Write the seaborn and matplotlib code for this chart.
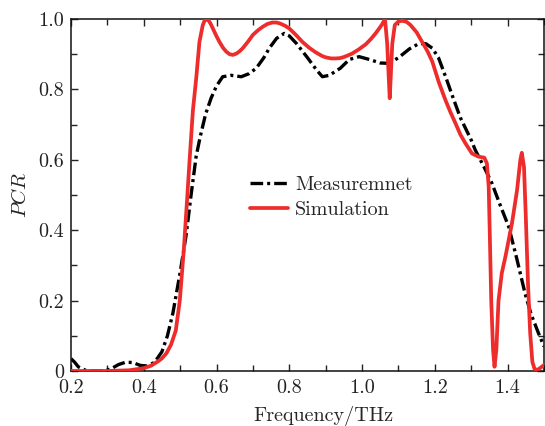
import numpy as np
import pandas as pd
import matplotlib
matplotlib.use("Agg")
import matplotlib.pyplot as plt
from matplotlib.ticker import MultipleLocator
import seaborn as sns

# ---- data ----
meas_x = [0.20, 0.21, 0.22, 0.24, 0.26, 0.29, 0.31, 0.33, 0.35, 0.37, 0.39, 0.41, 0.43,
          0.45, 0.465, 0.48, 0.50, 0.517, 0.53, 0.544, 0.555, 0.57, 0.585, 0.60, 0.617,
          0.64, 0.668, 0.69, 0.709, 0.73, 0.745, 0.765, 0.786, 0.80, 0.82, 0.85, 0.875,
          0.891, 0.91, 0.94, 0.965, 0.992, 1.02, 1.05, 1.074, 1.10, 1.13, 1.156, 1.175,
          1.193, 1.21, 1.23, 1.247, 1.27, 1.30, 1.311, 1.335, 1.357, 1.38, 1.403, 1.425,
          1.448, 1.465, 1.485, 1.50]
meas_y = [0.035, 0.025, 0.012, 0.002, 0.0, 0.0, 0.006, 0.018, 0.025, 0.024, 0.016, 0.014, 0.025,
          0.055, 0.10, 0.164, 0.28, 0.39, 0.50, 0.61, 0.665, 0.73, 0.775, 0.81, 0.836,
          0.84, 0.836, 0.845, 0.86, 0.89, 0.917, 0.945, 0.959, 0.952, 0.93, 0.89, 0.855,
          0.836, 0.84, 0.86, 0.885, 0.893, 0.885, 0.875, 0.874, 0.89, 0.915, 0.93, 0.93,
          0.917, 0.89, 0.835, 0.785, 0.72, 0.656, 0.628, 0.58, 0.533, 0.47, 0.41, 0.32,
          0.22, 0.16, 0.107, 0.07]

sim_x = [0.20, 0.30, 0.36, 0.40, 0.42, 0.44, 0.45, 0.462, 0.475, 0.488, 0.499, 0.510,
         0.519, 0.526, 0.535, 0.544, 0.553, 0.562, 0.567, 0.572, 0.577, 0.583, 0.59, 0.599,
         0.608, 0.618, 0.627, 0.636, 0.645, 0.655, 0.663, 0.672, 0.686, 0.70, 0.714, 0.727,
         0.74, 0.753, 0.765, 0.775, 0.788, 0.80, 0.818, 0.836, 0.855, 0.873, 0.89, 0.90,
         0.915, 0.928, 0.94, 0.95, 0.962, 0.973, 0.99, 1.01, 1.025, 1.037, 1.047, 1.055,
         1.063, 1.069, 1.073, 1.076, 1.079, 1.083, 1.09, 1.10, 1.11, 1.122, 1.133, 1.15,
         1.165, 1.18, 1.193, 1.211, 1.229, 1.243, 1.257, 1.27, 1.284, 1.302, 1.32, 1.336,
         1.343, 1.348, 1.351, 1.355, 1.36, 1.364, 1.369, 1.375, 1.384, 1.394, 1.412, 1.426,
         1.435, 1.439, 1.445, 1.45, 1.456, 1.462, 1.468, 1.474, 1.482, 1.494, 1.50]
sim_y = [0.000, 0.000, 0.002, 0.008, 0.015, 0.028, 0.036, 0.05, 0.075, 0.115, 0.20, 0.344,
         0.486, 0.60, 0.74, 0.83, 0.935, 0.982, 0.995, 1.0, 0.997, 0.988, 0.973, 0.953,
         0.935, 0.918, 0.907, 0.9, 0.898, 0.902, 0.908, 0.917, 0.935, 0.955, 0.968, 0.978,
         0.986, 0.99, 0.99, 0.987, 0.981, 0.973, 0.955, 0.935, 0.918, 0.905, 0.895, 0.891,
         0.888, 0.888, 0.889, 0.892, 0.897, 0.902, 0.913, 0.928, 0.944, 0.959, 0.973, 0.985,
         1.0, 0.93, 0.84, 0.775, 0.84, 0.93, 0.983, 0.993, 0.995, 0.992, 0.983, 0.962,
         0.935, 0.908, 0.879, 0.82, 0.77, 0.735, 0.703, 0.672, 0.647, 0.618, 0.609, 0.606,
         0.59, 0.524, 0.39, 0.2, 0.06, 0.012, 0.06, 0.2, 0.278, 0.325, 0.42, 0.514,
         0.60, 0.62, 0.58, 0.438, 0.249, 0.108, 0.026, 0.006, 0.003, 0.012, 0.017]

xticks = [0.2, 0.4, 0.6, 0.8, 1.0, 1.2, 1.4]
xtick_labels = ["0.2", "0.4", "0.6", "0.8", "1.0", "1.2", "1.4"]
yticks = [0, 0.2, 0.4, 0.6, 0.8, 1.0]
ytick_labels = ["0", "0.2", "0.4", "0.6", "0.8", "1.0"]

# ---- style ----
sns.set_style("ticks")
plt.rcParams["font.family"] = ["serif"]
plt.rcParams["font.serif"] = ["cmr10", "DejaVu Serif"]
plt.rcParams["mathtext.fontset"] = "cm"
plt.rcParams["axes.formatter.use_mathtext"] = True
plt.rcParams["axes.unicode_minus"] = False

FS = 14.5

fig = plt.figure(figsize=(5.45, 4.26), dpi=100)
ax = fig.add_axes([71 / 545, 55 / 426, 473 / 545, 352 / 426])

df_meas = pd.DataFrame({"x": meas_x, "y": meas_y})
df_sim = pd.DataFrame({"x": sim_x, "y": sim_y})

sns.lineplot(data=df_meas, x="x", y="y", ax=ax, color="black", linewidth=2.4,
             linestyle=(0, (3.8, 1.2, 0.9, 1.2)), sort=False, label="Measuremnet",
             zorder=2)
sns.lineplot(data=df_sim, x="x", y="y", ax=ax, color="#ee2c2c", linewidth=2.7,
             sort=False, label="Simulation", zorder=3)

ax.set_xlim(0.2, 1.5)
ax.set_ylim(0, 1.0)
ax.set_xticks(xticks)
ax.set_xticklabels(xtick_labels)
ax.set_yticks(yticks)
ax.set_yticklabels(ytick_labels)
ax.xaxis.set_minor_locator(MultipleLocator(0.1))
ax.yaxis.set_minor_locator(MultipleLocator(0.1))
ax.tick_params(which="both", direction="in", top=True, right=True, labelsize=FS,
               width=1.0, colors="#222222")
ax.tick_params(which="major", length=5)
ax.tick_params(which="minor", length=4)
ax.tick_params(axis="x", which="major", pad=6)
ax.tick_params(axis="y", which="major", pad=5)
for s in ax.spines.values():
    s.set_linewidth(1.1)
    s.set_color("#111111")

ax.set_xlabel("Frequency/THz", fontsize=FS, labelpad=3)
ax.xaxis.set_label_coords(0.534, -0.1)
ax.set_ylabel("$PCR$", fontsize=FS + 0.5, labelpad=6)

ax.legend(loc="center left", bbox_to_anchor=(0.378, 0.494), frameon=False,
          fontsize=FS, handlelength=1.9, handletextpad=0.35, labelspacing=0.35,
          borderaxespad=0, borderpad=0)

fig.savefig("out.png", dpi=100)
